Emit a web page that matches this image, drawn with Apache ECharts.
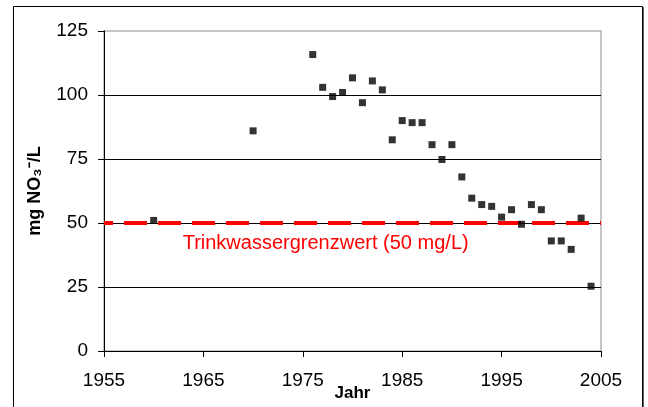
<!DOCTYPE html>
<html>
<head>
<meta charset="utf-8">
<script src="https://cdn.jsdelivr.net/npm/echarts@6/dist/echarts.min.js"></script>
<style>
  html, body { margin: 0; padding: 0; background: #fff; }
  #chart { width: 648px; height: 407px; }
</style>
</head>
<body>
<div id="chart"></div>
<script>
// Nitratgehalt je Jahr
const years = [1960, 1970, 1976, 1977, 1978, 1979, 1980, 1981, 1982, 1983, 1984, 1985, 1986, 1987, 1988, 1989,
  1990, 1991, 1992, 1993, 1994, 1995, 1996, 1997, 1998, 1999, 2000, 2001, 2002, 2003, 2004]
const nitrate = [51, 86, 115.8, 103, 99.4, 101, 106.7, 97, 105.5, 102, 82.5, 90, 89.2, 89.2, 80.6, 74.8,
  80.6, 68, 59.7, 57.2, 56.5, 52.3, 55.2, 49.5, 57.2, 55.2, 43, 43, 39.7, 51.9, 25.3]
const limitValue = 50
const limitLabel = 'Trinkwassergrenzwert (50 mg/L)'
const yearStart = 1955
const yearEnd = 2005
const yTicks = [0, 25, 50, 75, 100, 125]

const font = 'Liberation Sans, Arial, sans-serif'

const chart = echarts.init(document.getElementById('chart'))

// x-Achse läuft ab 0 (= 1955), damit die Striche bei 1955, 1965 ... liegen
const points = years.map((y, i) => [y - yearStart, nitrate[i]])

chart.setOption({
  animation: false,
  grid: {
    left: 104,
    right: 47,
    top: 31,
    bottom: 56,
    outerBoundsMode: 'none',
    containLabel: false,
    show: true,
    borderColor: '#b4b4b4',
    borderWidth: 1.5
  },
  xAxis: {
    type: 'value',
    min: 0,
    max: yearEnd - yearStart,
    interval: 10,
    name: 'Jahr',
    nameLocation: 'middle',
    nameGap: 34,
    nameMoveOverlap: false,
    nameTextStyle: { fontFamily: font, fontSize: 17, fontWeight: 'bold', color: '#000' },
    axisLine: { show: true, lineStyle: { color: '#000', width: 1 } },
    axisTick: { show: true, length: 6, lineStyle: { color: '#000' } },
    axisLabel: {
      margin: 20,
      fontFamily: font,
      fontSize: 19,
      color: '#000',
      formatter: v => String(v + yearStart)
    },
    splitLine: { show: false }
  },
  yAxis: {
    type: 'value',
    min: yTicks[0],
    max: yTicks[yTicks.length - 1],
    interval: 25,
    name: 'mg NO₃⁻/L',
    nameLocation: 'middle',
    nameGap: 60,
    nameRotate: 90,
    nameMoveOverlap: false,
    nameTextStyle: { fontFamily: font, fontSize: 18, fontWeight: 'bold', color: '#000' },
    axisLine: { show: true, lineStyle: { color: '#000', width: 1 } },
    axisTick: { show: true, length: 6, lineStyle: { color: '#000' } },
    axisLabel: { margin: 16, fontFamily: font, fontSize: 19, color: '#000' },
    splitLine: { show: true, showMaxLine: false, lineStyle: { color: '#000', width: 1 } }
  },
  series: [
    {
      type: 'scatter',
      data: points,
      symbol: 'rect',
      symbolSize: 7,
      itemStyle: { color: '#000' },
      z: 5,
      markLine: {
        silent: true,
        symbol: 'none',
        label: { show: false },
        lineStyle: { color: '#ff0000', width: 4, type: [23, 11], dashOffset: 14 },
        data: [{ yAxis: limitValue }],
        z: 3
      }
    }
  ],
  graphic: [
    {
      type: 'rect',
      shape: { x: 13.5, y: 6.5, width: 629, height: 420 },
      style: { fill: 'none', stroke: '#000', lineWidth: 1 },
      silent: true
    },
    {
      type: 'line',
      shape: { x1: 643.5, y1: 7, x2: 643.5, y2: 407 },
      style: { stroke: '#666', lineWidth: 1 },
      silent: true
    }
  ]
})

// Beschriftung des Grenzwerts unter der roten Linie
const labelPos = chart.convertToPixel({ gridIndex: 0 }, [1977.3 - yearStart, 42])
chart.setOption({
  graphic: [
    {},
    {},
    {
      type: 'text',
      x: labelPos[0],
      y: labelPos[1],
      style: {
        text: limitLabel,
        fill: '#ff0000',
        font: '20px ' + font,
        textAlign: 'center',
        textVerticalAlign: 'middle'
      },
      silent: true
    }
  ]
})
</script>
</body>
</html>
